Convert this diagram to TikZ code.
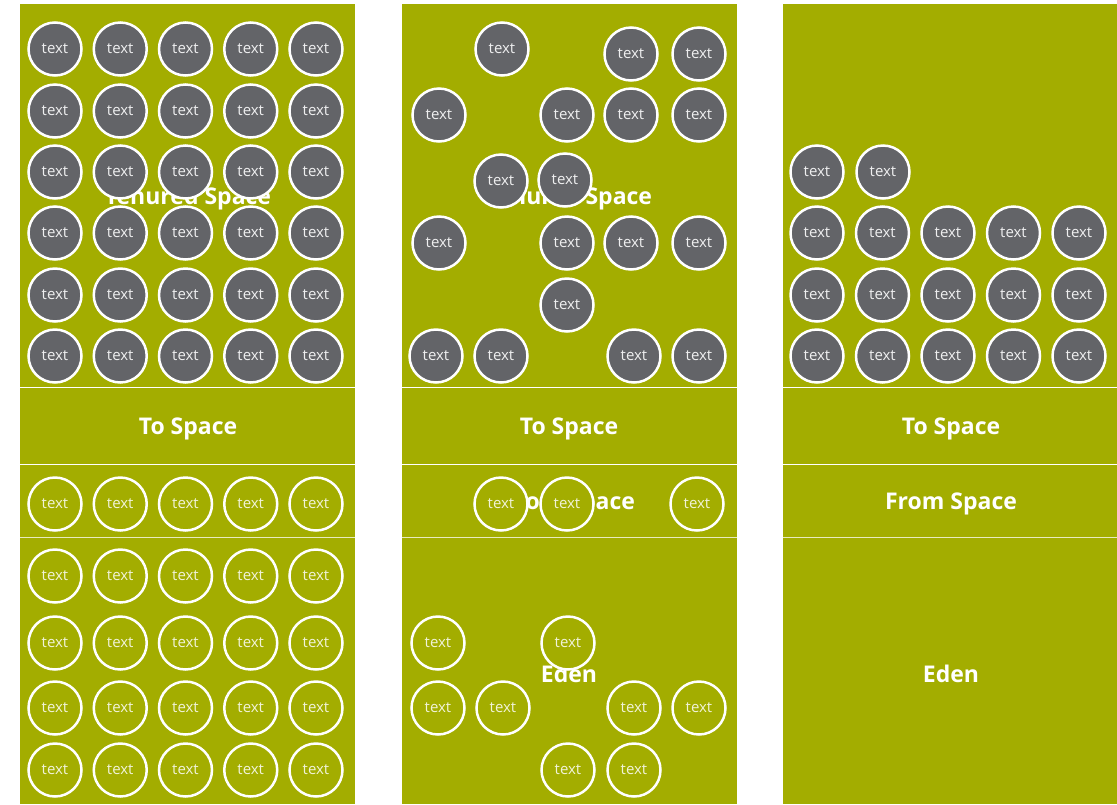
\documentclass[tikz,border=0pt]{standalone}
\usepackage{fontspec}
\setmainfont{Open Sans}
\usetikzlibrary{positioning}
\definecolor{gcgreen}{HTML}{A3AD00}
\definecolor{objgrey}{HTML}{636468}

\begin{document}
\begin{tikzpicture}[x=1pt,y=-1pt,
    obj/.style={circle,draw=white,line width=2.5pt,minimum size=53pt,inner sep=0pt,
        font=\fontsize{15}{15}\selectfont},
    live/.style={obj,fill=objgrey,text=white!90!objgrey},
    young/.style={obj,fill=gcgreen,text=white!85!gcgreen},
    title/.style={text=white,font=\bfseries\fontsize{23}{23}\selectfont}]
    \useasboundingbox (0,0) rectangle (1117,804);

    % Three heaps
    \foreach \x in {20, 402, 783} {
        \fill[gcgreen] (\x, 4) rectangle ++(335, 800);
        \draw[white, line width=0.8pt] (\x, 387) -- ++(335, 0);
        \draw[white, line width=0.8pt] (\x, 464) -- ++(335, 0);
        \draw[white!75!gcgreen, line width=1pt] (\x, 537) -- ++(335, 0);
    }

    % Labels
    \node[title] (ten1) at (188, 199) {Tenured Space};
    \node[title] (ten2) at (569, 199) {Tenured Space};
    \node[title] (to1) at (188, 429) {To Space};
    \node[title] (to2) at (569, 429) {To Space};
    \node[title] (to3) at (951, 429) {To Space};
    \node[title] (from2) at (569, 504) {From Space};
    \node[title] (from3) at (951, 504) {From Space};
    \node[title] (eden2) at (569, 674) {Eden};
    \node[title] (eden3) at (951, 674) {Eden};

    % Heap 1: full
    \foreach \i in {0, ..., 4} {
        \foreach \y [count=\j] in {49, 111, 172, 233, 295, 356}
            \node[live] (a-\i-\j) at (55 + 65.25*\i, \y) {text};
        \node[young] (af-\i) at (55 + 65.25*\i, 504) {text};
        \foreach \y [count=\j] in {576, 643, 708, 770}
            \node[young] (ae-\i-\j) at (55 + 65.25*\i, \y) {text};
    }

    % Heap 2: after marking
    \foreach \p [count=\k] in {(502,49), (631,54), (699,54),
            (439,115), (567,115), (631,115), (699,115),
            (501,181), (565,180),
            (439,243), (567,243), (631,243), (699,243),
            (567,305),
            (436,356), (501,356), (634,356), (699,356)}
        \node[live] (b-\k) at \p {text};
    \foreach \p [count=\k] in {(501,504), (567,504), (697,504)}
        \node[young] (bf-\k) at \p {text};
    \foreach \p [count=\k] in {(438,643), (568,643),
            (438,708), (503,708), (634,708), (699,708),
            (568,770), (634,770)}
        \node[young] (be-\k) at \p {text};

    % Heap 3: after compaction
    \node[live] (c-0-1) at (817, 172) {text};
    \node[live] (c-1-1) at (883, 172) {text};
    \foreach \i in {0, ..., 4} {
        \foreach \y [count=\j from 2] in {233, 295, 356}
            \node[live] (c-\i-\j) at (817 + 65.5*\i, \y) {text};
    }
\end{tikzpicture}
\end{document}
